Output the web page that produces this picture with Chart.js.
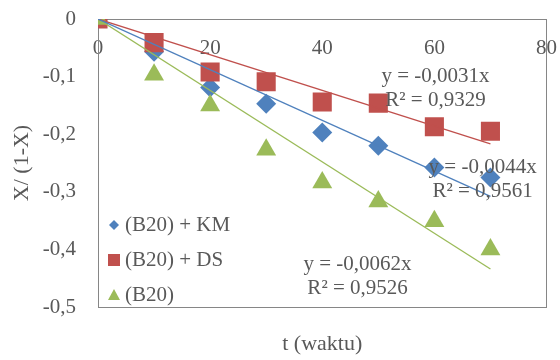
<!DOCTYPE html>
<html>
<head>
<meta charset="utf-8">
<script src="https://cdn.jsdelivr.net/npm/chart.js@4.4.0/dist/chart.umd.min.js"></script>
<style>
  body { margin: 0; background: #fff; }
</style>
</head>
<body>
<canvas id="mycanvas" width="560" height="360"></canvas>
<script>
// waktu (t)
var times = [0, 10, 20, 30, 40, 50, 60, 70];
// X/(1-X) per series
var seriesNames = ['(B20) + KM', '(B20) + DS', '(B20)'];
var valuesKM = [0, -0.057, -0.119, -0.147, -0.197, -0.220, -0.258, -0.275];
var valuesDS = [0, -0.041, -0.092, -0.109, -0.144, -0.146, -0.187, -0.195];
var valuesB20 = [0, -0.097, -0.150, -0.227, -0.284, -0.317, -0.351, -0.400];
// trendline slopes and R²
var slopes = [-0.0044, -0.0031, -0.0062];
var rSquared = ['0,9561', '0,9329', '0,9526'];
var xTicks = [0, 20, 40, 60, 80];
var yTicks = [0, -0.1, -0.2, -0.3, -0.4, -0.5];

var colors = ['#4F81BD', '#C0504D', '#9BBB59'];
var txtColor = '#595959';
var axisColor = '#868686';
var fontFamily = "'Liberation Serif', 'Times New Roman', serif";

function toPoints(vals) {
	var pts = [];
	for (var i in vals) {
		pts.push({x: times[i], y: vals[i]});
	}
	return pts;
}
function trendPoints(slope) {
	var last = times[times.length - 1];
	return [{x: 0, y: 0}, {x: last, y: slope * last}];
}
function comma(v, digits) {
	if (Math.abs(v) < 1e-9) return '0';
	return v.toFixed(digits).replace('.', ',');
}

// label positions (data units) for the trendline equations
var eqPos = [{x: 68.6, y: -0.258}, {x: 60.2, y: -0.099}, {x: 46.3, y: -0.427}];

var overlayPlugin = {
	id: 'overlay',
	afterDraw: function(chart) {
		var ctx = chart.ctx;
		var xs = chart.scales.x, ys = chart.scales.y;
		ctx.save();
		ctx.fillStyle = txtColor;
		ctx.font = '21px ' + fontFamily;
		ctx.textAlign = 'center';
		ctx.textBaseline = 'middle';
		for (var i = 0; i < 3; i++) {
			var px = xs.getPixelForValue(eqPos[i].x);
			var py = ys.getPixelForValue(eqPos[i].y);
			ctx.fillText('y = ' + comma(slopes[i], 4) + 'x', px, py);
			ctx.fillText('R\u00B2 = ' + rSquared[i], px, py + 24);
		}
		// legend inside plot
		var lx = 114, ly = [225, 260, 295];
		for (var j = 0; j < 3; j++) {
			var y = ly[j];
			ctx.fillStyle = colors[j];
			ctx.beginPath();
			if (j === 0) {
				ctx.moveTo(lx, y - 5); ctx.lineTo(lx + 5, y); ctx.lineTo(lx, y + 5); ctx.lineTo(lx - 5, y);
			} else if (j === 1) {
				ctx.rect(lx - 6, y - 6, 12, 12);
			} else {
				ctx.moveTo(lx, y - 6); ctx.lineTo(lx + 6, y + 5); ctx.lineTo(lx - 6, y + 5);
			}
			ctx.closePath();
			ctx.fill();
			ctx.fillStyle = txtColor;
			ctx.textAlign = 'left';
			ctx.fillText(seriesNames[j], lx + 11, y);
		}
		ctx.restore();
	}
};

var chartdata = {
	datasets: [
		{type: 'line', data: trendPoints(slopes[0]), borderColor: colors[0], borderWidth: 1.3, pointRadius: 0, fill: false},
		{type: 'line', data: trendPoints(slopes[1]), borderColor: colors[1], borderWidth: 1.3, pointRadius: 0, fill: false},
		{type: 'line', data: trendPoints(slopes[2]), borderColor: colors[2], borderWidth: 1.3, pointRadius: 0, fill: false},
		{label: seriesNames[2], data: toPoints(valuesB20), pointStyle: 'triangle', pointRadius: 11.5, backgroundColor: colors[2], borderColor: colors[2], borderWidth: 0},
		{label: seriesNames[1], data: toPoints(valuesDS), pointStyle: 'rect', pointRadius: 13.5, backgroundColor: colors[1], borderColor: colors[1], borderWidth: 0},
		{label: seriesNames[0], data: toPoints(valuesKM), pointStyle: 'rectRot', pointRadius: 10, backgroundColor: colors[0], borderColor: colors[0], borderWidth: 0}
	]
};

var ctx = document.getElementById('mycanvas');

var scatter = new Chart(ctx, {
	type: 'scatter',
	data: chartdata,
	plugins: [overlayPlugin],
	options: {
		responsive: false,
		animation: false,
		layout: {padding: 0},
		plugins: {legend: {display: false}, tooltip: {enabled: false}},
		scales: {
			x: {
				type: 'linear', position: 'bottom', min: 0, max: 80,
				grid: {display: false},
				border: {display: true, color: axisColor, width: 1},
				ticks: {display: false},
				title: {display: true, text: 't (waktu)', color: txtColor, font: {family: fontFamily, size: 22}, padding: {top: 0, bottom: 3}},
				afterFit: function(s) { s.height = 53; s.paddingLeft = 0; s.paddingRight = 0; }
			},
			x2: {
				type: 'linear', position: 'top', min: 0, max: 80,
				grid: {display: false, drawTicks: false},
				border: {display: true, color: axisColor, width: 1},
				afterBuildTicks: function(s) { s.ticks = xTicks.map(function(v) { return {value: v}; }); },
				ticks: {color: txtColor, font: {family: fontFamily, size: 21}, mirror: true, padding: 17, autoSkip: false, maxRotation: 0},
				afterFit: function(s) { s.height = 19; s.paddingLeft = 0; s.paddingRight = 0; }
			},
			y: {
				type: 'linear', min: -0.5, max: 0,
				grid: {display: false, drawTicks: false},
				border: {display: true, color: axisColor, width: 1},
				afterBuildTicks: function(s) { s.ticks = yTicks.map(function(v) { return {value: v}; }); },
				ticks: {color: txtColor, font: {family: fontFamily, size: 21}, padding: 22,
					callback: function(v) { return comma(v, 1); }},
				title: {display: true, text: 'X/ (1-X)', color: txtColor, font: {family: fontFamily, size: 22}, padding: {top: 9, bottom: 0}},
				afterFit: function(s) { s.width = 98; s.paddingTop = 0; s.paddingBottom = 0; }
			},
			y2: {
				type: 'linear', position: 'right', min: -0.5, max: 0,
				grid: {display: false, drawTicks: false},
				border: {display: true, color: axisColor, width: 1},
				ticks: {display: false},
				afterFit: function(s) { s.width = 13; s.paddingTop = 0; s.paddingBottom = 0; }
			}
		}
	}
});
</script>
</body>
</html>
